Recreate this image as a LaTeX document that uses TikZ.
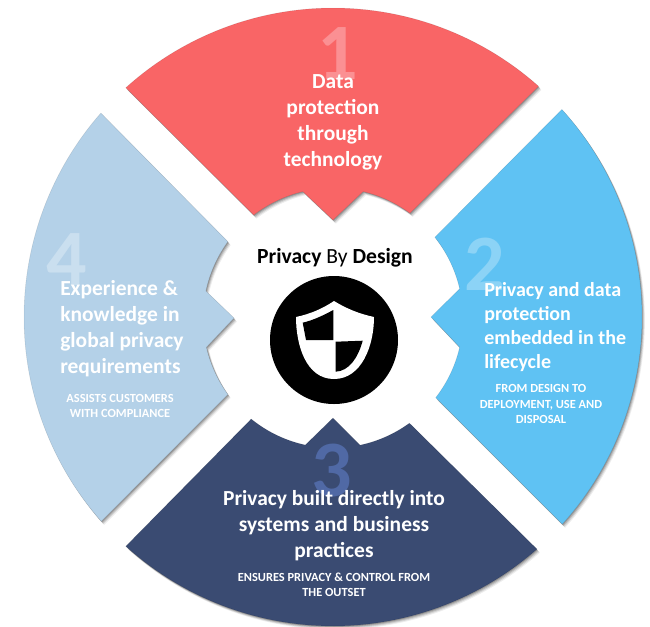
\documentclass[tikz,border=0pt]{standalone}
\usepackage{fontspec}
\setmainfont{Carlito}
\definecolor{redseg}{HTML}{F96566}
\definecolor{blueseg}{HTML}{5FC2F3}
\definecolor{navyseg}{HTML}{3A4B72}
\definecolor{paleseg}{HTML}{B4D1E8}
\definecolor{redno}{HTML}{FB9093}
\definecolor{blueno}{HTML}{8CD3F6}
\definecolor{navyno}{HTML}{5069A5}
\definecolor{paleno}{HTML}{CADFEF}
% #1 fill, #2-#3 outer angles, #4-#5 inner angles, #6 tip, #7-#8 inner angles
\newcommand\wheelseg[8]{%
  \def\segpath{plot[domain=#2:#3,samples=60] ({333+309*cos(\x)},{317-309*sin(\x)})
    -- plot[domain=#4:#5,samples=20] ({333+130*cos(\x)},{318-130*sin(\x)})
    -- (#6)
    -- plot[domain=#7:#8,samples=20] ({333+130*cos(\x)},{318-130*sin(\x)}) -- cycle}%
  \foreach \s/\o in {3.6/0.07,2.7/0.10,1.8/0.14,0.9/0.18}{
    \fill[black,opacity=\o,xshift=\s*0.6pt,yshift=-\s*0.75pt] \segpath;
  }
  \fill[#1] \segpath;
  \draw[black,opacity=0.10,line width=0.4pt] \segpath;
}
\tikzset{
  numeral/.style={anchor=base,font=\fontsize{60}{60}\selectfont\bfseries},
  headtext/.style={text=white,font=\fontsize{16.1}{19.5}\selectfont\bfseries,inner sep=0pt},
  subtext/.style={text=white,font=\fontsize{9.3}{11.6}\selectfont\bfseries,inner sep=0pt,align=center},
}
\begin{document}
\begin{tikzpicture}[x=0.75pt,y=-0.75pt]
\useasboundingbox (0,0) rectangle (650,626);
\fill[white] (0,0) rectangle (650,626);
\wheelseg{redseg}{132.1}{48.3}{53.7}{76.6}{333,220}{103.4}{127.6}
\wheelseg{blueseg}{42.2}{-42.1}{-37.8}{-13}{431,317}{13}{38.4}
\wheelseg{navyseg}{311.3}{227.9}{231}{257.7}{333,418}{282}{306}
\wheelseg{paleseg}{221.4}{138.7}{144}{168}{234,318}{193}{216}
\node[numeral,text=redno] (n1) at (338,79) {1};
\node[numeral,text=blueno] (n2) at (485,290) {2};
\node[numeral,text=navyno] (n3) at (332,496) {3};
\node[numeral,text=paleno] (n4) at (67,285) {4};
\node[headtext,align=center] (t1) at (333,122) {Data\\protection\\through\\technology};
\node[headtext,align=left,font=\fontsize{15}{18}\selectfont\bfseries,anchor=west] (t2) at (484,327) {Privacy and data\\protection\\embedded in the\\lifecycle};
\node[subtext] (s2) at (541,404) {FROM DESIGN TO\\DEPLOYMENT, USE AND\\DISPOSAL};
\node[headtext,align=center] (t3) at (334,526) {Privacy built directly into\\systems and business\\practices};
\node[subtext] (s3) at (334,585) {ENSURES PRIVACY \& CONTROL FROM\\THE OUTSET};
\node[headtext,align=left,anchor=west] (t4) at (60,329) {Experience \&\\knowledge in\\global privacy\\requirements};
\node[subtext] (s4) at (120,406) {ASSISTS CUSTOMERS\\WITH COMPLIANCE};
\node[inner sep=0pt,anchor=base,font=\fontsize{16.2}{18}\selectfont] (title) at (335,263) {\textbf{Privacy} By \textbf{Design}};
\node[circle,fill=black,minimum size=96pt,inner sep=0pt] (badge) at (334,340) {};
\fill[white] (334,301) .. controls (347,309) and (360,314) .. (374,317)
  .. controls (374,345) and (362,379) .. (334,379)
  .. controls (306,379) and (296,345) .. (296,317)
  .. controls (310,314) and (322,309) .. (334,301) -- cycle;
\fill[black] (333.3,310) -- (333.3,340) -- (306,340) -- (302.7,322.7) .. controls (314,320) and (324,315) .. (333.3,310) -- cycle;
\fill[black] (335.7,341.7) -- (362.7,340.7) .. controls (358,358) and (349,371) .. (335.7,371.7) -- cycle;
\end{tikzpicture}
\end{document}
